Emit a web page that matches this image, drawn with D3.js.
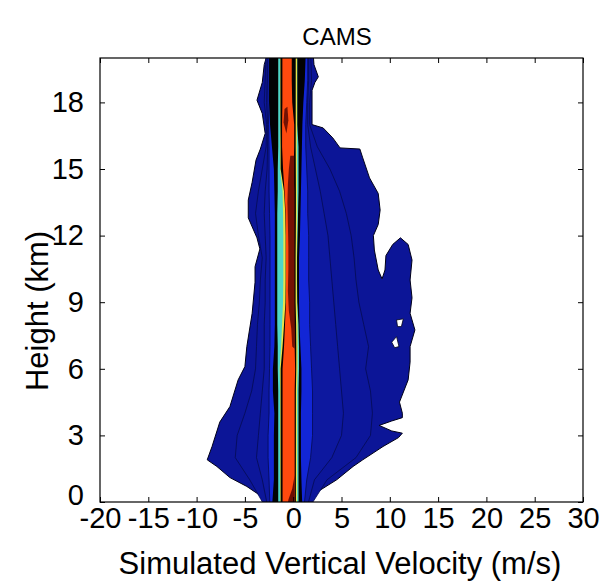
<!DOCTYPE html>
<html>
<head>
<meta charset="utf-8">
<script src="https://cdn.jsdelivr.net/npm/d3@7"></script>
<style>
  body { margin: 0; background: #fff; }
  text { font-family: "Liberation Sans", Arial, Helvetica, sans-serif; fill: #000; }
</style>
</head>
<body>
<svg id="chart" width="602" height="586"></svg>
<script>
// ---- axis ticks ----
const xTicks = [-20, -15, -10, -5, 0, 5, 10, 15, 20, 25, 30];
const yTicks = [0, 3, 6, 9, 12, 15, 18];

// ---- heights (km) at which the inner contour bands are sampled ----
const heights = [0, 1, 2, 3, 4, 5, 6, 7, 8, 9, 10, 11, 12, 13, 14, 15, 16, 17, 18, 19, 20];

// ---- outermost contour: [velocity (m/s), height (km)] ----
const outerContour = [
  [-2.6, 20.3], [-3.0, 19.7], [-3.2, 18.9], [-3.75, 18.1], [-3.2, 17.5], [-2.9, 16.6],
  [-3.4, 15.9], [-3.85, 15.4], [-4.25, 14.4], [-4.65, 13.6], [-4.65, 12.8], [-3.75, 11.9],
  [-3.45, 11.4], [-3.95, 10.6], [-3.95, 9.9], [-4.25, 8.5], [-4.8, 7.0], [-5.0, 6.1],
  [-5.7, 5.5], [-6.55, 4.3], [-7.6, 3.6], [-8.4, 2.5], [-8.9, 1.9], [-7.9, 1.6],
  [-6.55, 1.1], [-4.8, 0.7], [-3.1, 0.2], [-2.9, -0.2],
  [1.7, -0.2], [2.3, 0.4], [4.5, 1.0], [6.2, 1.6], [7.2, 1.9], [9.3, 2.5], [10.9, 2.9],
  [11.3, 3.1], [10.2, 3.2], [8.9, 3.45], [10.2, 3.65], [11.3, 3.8], [11.3, 4.0], [11.0, 4.5],
  [11.9, 5.5], [12.1, 6.3], [12.1, 7.0], [12.6, 7.75], [12.1, 8.5], [12.3, 9.2], [12.1, 10.0],
  [12.3, 10.9], [11.9, 11.6], [11.1, 11.9], [10.3, 11.6], [9.6, 11.1], [9.5, 10.45],
  [9.2, 10.05], [8.8, 10.45], [8.4, 11.35], [8.3, 12.0], [8.8, 12.5], [9.0, 13.15],
  [8.8, 13.9], [7.9, 14.6], [7.2, 15.5], [6.9, 15.9], [4.85, 15.95], [4.1, 16.4],
  [3.1, 16.85], [1.95, 17.0], [1.95, 18.55], [2.25, 18.9], [2.6, 19.15], [2.15, 19.7], [2.05, 20.3]
];

// ---- gaps inside the outermost contour ----
const gapA = [[10.7, 8.2], [11.4, 8.25], [11.2, 7.9], [10.8, 7.9]];
const gapB = [[10.2, 7.2], [10.7, 7.45], [10.95, 7.0], [10.5, 6.95]];

// ---- nested contour bands: left / right edge (m/s) at each height ----
const level2Left  = [-2.8, -4.5, -6.0, -5.8, -5.0, -4.3, -3.9, -3.8, -3.7, -3.5, -3.4, -3.2, -3.6, -3.9, -3.6, -3.2, -2.8, -2.75, -3.0, -2.9, -2.8];
const level2Right = [1.6, 3.5, 6.5, 8.0, 8.2, 8.0, 7.5, 7.8, 7.3, 6.8, 6.5, 6.3, 6.0, 5.5, 4.8, 3.8, 2.5, 1.7, 1.7, 1.9, 1.8];
const level3Left  = [-2.6, -3.2, -3.8, -3.6, -3.4, -3.2, -3.0, -3.0, -3.0, -2.9, -2.9, -2.8, -2.9, -3.0, -2.9, -2.7, -2.65, -2.65, -2.75, -2.7, -2.7];
const level3Right = [1.4, 2.2, 4.0, 5.0, 5.2, 5.0, 4.8, 4.6, 4.4, 4.2, 4.0, 3.8, 3.6, 3.2, 2.8, 2.3, 1.8, 1.5, 1.5, 1.6, 1.6];
const level4Left  = [-2.4, -2.5, -2.6, -2.6, -2.5, -2.5, -2.45, -2.4, -2.4, -2.4, -2.4, -2.4, -2.4, -2.45, -2.5, -2.5, -2.5, -2.55, -2.6, -2.6, -2.6];
const level4Right = [1.1, 1.4, 1.8, 2.0, 2.0, 2.0, 1.9, 1.8, 1.7, 1.7, 1.6, 1.6, 1.6, 1.5, 1.5, 1.4, 1.3, 1.3, 1.4, 1.5, 1.5];
const blackLeft   = [-2.2, -2.0, -2.0, -2.0, -1.95, -2.1, -2.1, -1.95, -1.9, -1.9, -1.9, -1.9, -1.9, -1.9, -1.95, -2.0, -2.2, -2.4, -2.5, -2.5, -2.5];
const blackRight  = [0.95, 0.85, 0.8, 0.8, 0.8, 0.85, 0.85, 0.75, 0.65, 0.6, 0.6, 0.6, 0.7, 0.75, 0.8, 0.85, 0.9, 0.95, 1.05, 1.2, 1.3];
const cyanLeft    = [-1.55, -1.55, -1.55, -1.55, -1.55, -1.55, -1.6, -1.6, -1.65, -1.65, -1.65, -1.65, -1.65, -1.65, -1.6, -1.6, -1.55, -1.55, -1.55, -1.55, -1.55];
const cyanRight   = [0.55, 0.55, 0.55, 0.55, 0.55, 0.55, 0.6, 0.6, 0.55, 0.42, 0.4, 0.4, 0.45, 0.5, 0.55, 0.55, 0.55, 0.42, 0.42, 0.42, 0.42];
const yellowLeft  = [-1.35, -1.35, -1.35, -1.35, -1.35, -1.35, -1.4, -1.25, -1.15, -1.05, -1.02, -1.02, -1.02, -1.05, -1.1, -1.35, -1.35, -1.35, -1.35, -1.35, -1.35];
const yellowRight = [0.4, 0.4, 0.4, 0.4, 0.4, 0.4, 0.45, 0.45, 0.45, 0.4, 0.38, 0.38, 0.4, 0.42, 0.4, 0.4, 0.38, 0.4, 0.4, 0.4, 0.4];
const innerLeft   = [-1.3, -1.3, -1.3, -1.3, -1.3, -1.3, -1.3, -1.1, -0.95, -0.8, -0.78, -0.78, -0.78, -0.82, -0.95, -1.3, -1.3, -1.32, -1.32, -1.32, -1.32];
const innerRight  = [0.28, 0.28, 0.28, 0.28, 0.28, 0.28, 0.32, 0.32, 0.3, 0.25, 0.25, 0.25, 0.27, 0.28, 0.28, 0.27, 0.26, 0.26, 0.26, 0.26, 0.26];
const orangeLeft  = [-1.1, -1.1, -1.1, -1.1, -1.1, -1.1, -1.1, -0.95, -0.85, -0.75, -0.75, -0.75, -0.75, -0.78, -0.9, -1.05, -1.15, -1.15, -1.12, -1.12, -1.12];
const orangeRight = [0.15, 0.15, 0.15, 0.15, 0.15, 0.15, 0.2, 0.15, 0.1, 0.1, 0.1, 0.1, 0.1, 0.1, 0.1, 0.05, 0.1, 0.1, -0.1, -0.15, -0.15];

// ---- peak-frequency patches: [velocity, height] ----
const peakMid = [
  [-0.1, 7.0], [-0.2, 7.8], [-0.45, 8.6], [-0.55, 9.5], [-0.5, 10.5], [-0.5, 11.5],
  [-0.55, 12.5], [-0.6, 13.5], [-0.55, 14.3], [-0.45, 15.0], [-0.3, 15.6], [0.1, 15.6],
  [0.1, 14.5], [0.1, 13.0], [0.1, 11.0], [0.1, 9.0], [0.15, 8.0], [0.18, 7.2], [0.15, 6.9]
];
const peakTop = [[-0.7, 16.6], [-1.0, 17.1], [-0.9, 17.7], [-0.6, 17.8], [-0.5, 17.2]];
const peakLow = [[0.15, 1.2], [-0.1, 0.6], [-0.5, 0.1], [-0.6, -0.2], [0.15, -0.2]];

// ---- layout ----
const svg = d3.select("#chart");
const x = d3.scaleLinear().domain([-20, 30]).range([100, 583]);
const y = d3.scaleLinear().domain([0, 20]).range([502, 58]);

svg.append("defs").append("clipPath").attr("id", "plot-clip")
  .append("rect").attr("x", 100).attr("y", 58).attr("width", 483).attr("height", 444);

const plot = svg.append("g").attr("clip-path", "url(#plot-clip)");
const outline = d3.line().x(d => x(d[0])).y(d => y(d[1])).curve(d3.curveLinearClosed);

function band(left, right) {
  const pts = heights.map((h, i) => [left[i], h]);
  // stretch the end rows past the frame so the bands run out of the plot
  pts[0] = [left[0], -0.3];
  pts[pts.length - 1] = [left[left.length - 1], 20.3];
  const back = heights.map((h, i) => [right[i], h]);
  back[0] = [right[0], -0.3];
  back[back.length - 1] = [right[right.length - 1], 20.3];
  return pts.concat(back.reverse());
}

function drawShape(points, fill, stroke, sw) {
  plot.append("path")
    .attr("d", outline(points))
    .attr("fill", fill)
    .attr("stroke", stroke || "none")
    .attr("stroke-width", sw || 0)
    .attr("stroke-linejoin", "round");
}

// filled contours, outermost first
drawShape(outerContour, "#0c1597", "#000018", 1);
drawShape(gapA, "#ffffff", "#000018", 0.8);
drawShape(gapB, "#ffffff", "#000018", 0.8);
drawShape(band(level2Left, level2Right), "#0c169a", "#050b52", 0.8);
drawShape(band(level3Left, level3Right), "#0d189f", "#050b52", 0.8);
drawShape(band(level4Left, level4Right), "#1226d6", "#050b52", 0.8);
drawShape(band(blackLeft, blackRight), "#020204");
drawShape(band(cyanLeft, cyanRight), "#4fd6c8");
drawShape(band(yellowLeft, yellowRight), "#e6e44a");
drawShape(band(innerLeft, innerRight), "#050302");
drawShape(band(orangeLeft, orangeRight), "#ff4a0e");
drawShape(peakMid, "#741204");
drawShape(peakTop, "#741204");
drawShape(peakLow, "#6a0e02");

// ---- axes (ticks point inward on all four sides) ----
const fmt = d => String(d);
const gx = svg.append("g").attr("transform", "translate(0,502)")
  .call(d3.axisBottom(x).tickValues(xTicks).tickSize(-5).tickSizeOuter(0).tickPadding(5).tickFormat(fmt));
svg.append("g").attr("transform", "translate(0,58)")
  .call(d3.axisTop(x).tickValues(xTicks).tickSize(-5).tickSizeOuter(0).tickFormat(""));
const gy = svg.append("g").attr("transform", "translate(100,0)")
  .call(d3.axisLeft(y).tickValues(yTicks).tickSize(-5).tickSizeOuter(0).tickPadding(16).tickFormat(fmt));
svg.append("g").attr("transform", "translate(583,0)")
  .call(d3.axisRight(y).tickValues(yTicks).tickSize(-5).tickSizeOuter(0).tickFormat(""));

svg.selectAll(".domain").remove();
svg.selectAll(".tick line").attr("stroke", "#000").attr("stroke-width", 1);
gx.selectAll("text").style("font-size", "29px");
gy.selectAll("text").style("font-size", "29px");
// keep the lowest height label clear of the first velocity label
gy.selectAll(".tick").filter(d => d === 0).select("text").attr("dy", "0.1em");

// frame
svg.append("rect").attr("x", 100).attr("y", 58).attr("width", 483).attr("height", 444)
  .attr("fill", "none").attr("stroke", "#000").attr("stroke-width", 1.2);

// ---- titles ----
svg.append("text").attr("x", 337).attr("y", 45).attr("text-anchor", "middle")
  .style("font-size", "24px").text("CAMS");
svg.append("text").attr("x", 340).attr("y", 574).attr("text-anchor", "middle")
  .style("font-size", "31px").text("Simulated Vertical Velocity (m/s)");
svg.append("text").attr("transform", "translate(48,311) rotate(-90)").attr("text-anchor", "middle")
  .style("font-size", "31px").text("Height (km)");
</script>
</body>
</html>
